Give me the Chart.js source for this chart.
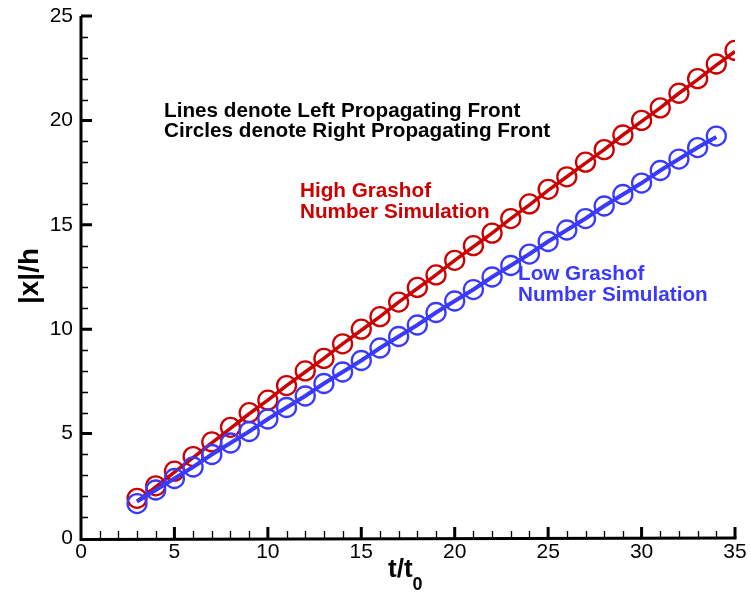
<!DOCTYPE html>
<html>
<head>
<meta charset="utf-8">
<script src="https://cdn.jsdelivr.net/npm/chart.js@4.4.1/dist/chart.umd.min.js"></script>
<style>
  body { margin: 0; background: #fff; }
  #wrap { width: 751px; height: 598px; }
</style>
</head>
<body>
<div id="wrap"><canvas id="myChart" width="751" height="598"></canvas></div>
<script>
// front position |x|/h against time t/t0
const xTicks = [0, 5, 10, 15, 20, 25, 30, 35];
const yTicks = [0, 5, 10, 15, 20, 25];

const tHigh = [3, 4, 5, 6, 7, 8, 9, 10, 11, 12, 13, 14, 15, 16, 17, 18, 19, 20,
  21, 22, 23, 24, 25, 26, 27, 28, 29, 30, 31, 32, 33, 34, 35];
const tLow = [3, 4, 5, 6, 7, 8, 9, 10, 11, 12, 13, 14, 15, 16, 17, 18, 19, 20,
  21, 22, 23, 24, 25, 26, 27, 28, 29, 30, 31, 32, 33, 34];

// high Grashof number run
const highLeft = [1.75, 2.45, 3.15, 3.85, 4.55, 5.25, 5.95, 6.6, 7.3, 7.95, 8.6, 9.3,
  9.95, 10.6, 11.3, 11.95, 12.6, 13.3, 13.95, 14.6, 15.3, 15.95, 16.65, 17.3,
  17.95, 18.6, 19.3, 19.95, 20.6, 21.3, 21.95, 22.65, 23.3];
const highRight = [1.9, 2.5, 3.2, 3.9, 4.6, 5.3, 6.0, 6.6, 7.3, 8.0, 8.6, 9.3,
  10.0, 10.6, 11.3, 12.0, 12.6, 13.3, 14.0, 14.6, 15.3, 16.0, 16.7, 17.3,
  18.0, 18.6, 19.3, 20.0, 20.6, 21.3, 22.0, 22.7, 23.35];

// low Grashof number run
const lowLeft = [1.75, 2.3, 2.85, 3.4, 4.0, 4.55, 5.1, 5.7, 6.25, 6.8, 7.4, 7.95,
  8.5, 9.1, 9.65, 10.2, 10.8, 11.35, 11.9, 12.5, 13.05, 13.6, 14.2, 14.75,
  15.3, 15.9, 16.45, 17.0, 17.6, 18.15, 18.7, 19.2];
const lowRight = [1.65, 2.3, 2.85, 3.4, 4.0, 4.55, 5.1, 5.7, 6.25, 6.8, 7.4, 7.95,
  8.5, 9.1, 9.65, 10.2, 10.8, 11.35, 11.9, 12.5, 13.05, 13.6, 14.2, 14.75,
  15.3, 15.9, 16.45, 17.0, 17.6, 18.15, 18.7, 19.25];

const red = "#cc0000";
const blue = "#3a3aff";
const FONT = "'Liberation Sans', Arial, sans-serif";

const pts = (xs, ys) => xs.map((x, i) => ({ x: x, y: ys[i] }));

// axes with inward major/minor ticks, axis titles and the notes on the plot
const decorations = {
  id: "decorations",
  afterDraw(chart) {
    const ctx = chart.ctx;
    const xs = chart.scales.x;
    const ys = chart.scales.y;
    const area = chart.chartArea;
    ctx.save();
    ctx.strokeStyle = "#000";
    ctx.lineCap = "butt";

    // axis lines
    ctx.lineWidth = 3;
    ctx.beginPath();
    ctx.moveTo(area.left, area.top);
    ctx.lineTo(area.left, area.bottom + 1.5);
    ctx.lineTo(area.right + 1.5, area.bottom);
    ctx.stroke();

    // minor ticks
    ctx.lineWidth = 1.3;
    ctx.beginPath();
    for (let v = xs.min; v <= xs.max; v++) {
      if (v % 5 === 0) continue;
      const px = Math.round(xs.getPixelForValue(v)) + 0.5;
      ctx.moveTo(px, area.bottom);
      ctx.lineTo(px, area.bottom - 7);
    }
    for (let v = ys.min; v <= ys.max; v++) {
      if (v % 5 === 0) continue;
      const py = Math.round(ys.getPixelForValue(v)) + 0.5;
      ctx.moveTo(area.left, py);
      ctx.lineTo(area.left + 7, py);
    }
    ctx.stroke();

    // major ticks
    ctx.lineWidth = 3;
    ctx.beginPath();
    xTicks.forEach((v) => {
      if (v === 0) return;
      const px = xs.getPixelForValue(v);
      ctx.moveTo(px, area.bottom);
      ctx.lineTo(px, area.bottom - 11);
    });
    yTicks.forEach((v) => {
      if (v === 0) return;
      const py = ys.getPixelForValue(v);
      ctx.moveTo(area.left, py);
      ctx.lineTo(area.left + 11, py);
    });
    ctx.stroke();

    // axis titles
    ctx.fillStyle = "#000";
    ctx.textBaseline = "alphabetic";
    ctx.font = "bold 26px " + FONT;
    ctx.textAlign = "left";
    ctx.fillText("t/t", 388, 577);
    const w = ctx.measureText("t/t").width;
    ctx.font = "bold 18px " + FONT;
    ctx.fillText("0", 388 + w, 590);

    ctx.save();
    ctx.translate(38, 276);
    ctx.rotate(-Math.PI / 2);
    ctx.textAlign = "center";
    ctx.font = "bold 28px " + FONT;
    ctx.fillText("|x|/h", 0, 0);
    ctx.restore();

    // notes
    ctx.textAlign = "left";
    ctx.font = "bold 20.7px " + FONT;
    ctx.fillStyle = "#000";
    ctx.fillText("Lines denote Left Propagating Front", 164, 117);
    ctx.fillText("Circles denote Right Propagating Front", 164, 137);
    ctx.fillStyle = red;
    ctx.fillText("High Grashof", 300, 197);
    ctx.fillText("Number Simulation", 300, 218);
    ctx.fillStyle = blue;
    ctx.fillText("Low Grashof", 518, 280);
    ctx.fillText("Number Simulation", 518, 301);
    ctx.restore();
  },
};

const ctx = document.getElementById("myChart");
const myChart = new Chart(ctx, {
  type: "scatter",
  data: {
    datasets: [
      {
        label: "High Grashof, left front",
        data: pts(tHigh, highLeft),
        showLine: true,
        borderColor: red,
        borderWidth: 3.5,
        pointRadius: 0,
        order: 2,
      },
      {
        label: "High Grashof, right front",
        data: pts(tHigh, highRight),
        showLine: false,
        pointRadius: 9.5,
        pointBorderWidth: 2.3,
        pointBorderColor: red,
        pointBackgroundColor: "rgba(0,0,0,0)",
        order: 3,
      },
      {
        label: "Low Grashof, left front",
        data: pts(tLow, lowLeft),
        showLine: true,
        borderColor: blue,
        borderWidth: 4,
        pointRadius: 0,
        order: 0,
      },
      {
        label: "Low Grashof, right front",
        data: pts(tLow, lowRight),
        showLine: false,
        pointRadius: 9.5,
        pointBorderWidth: 2.3,
        pointBorderColor: blue,
        pointBackgroundColor: "rgba(0,0,0,0)",
        order: 1,
      },
    ],
  },
  options: {
    responsive: false,
    devicePixelRatio: 1,
    animation: false,
    layout: { padding: { top: 16, right: 16, left: 0, bottom: 0 } },
    plugins: {
      legend: { display: false },
      tooltip: { enabled: false },
    },
    scales: {
      x: {
        type: "linear",
        min: 0,
        max: 35,
        afterBuildTicks: (scale) => {
          scale.ticks = xTicks.map((v) => ({ value: v }));
        },
        afterFit: (scale) => {
          scale.height = 60;
          scale.paddingLeft = 0;
          scale.paddingRight = 0;
        },
        grid: { display: false, drawTicks: false },
        border: { display: false },
        ticks: {
          color: "#000",
          font: { family: FONT, size: 21 },
          padding: 2,
          maxRotation: 0,
        },
      },
      y: {
        type: "linear",
        min: 0,
        max: 25,
        afterBuildTicks: (scale) => {
          scale.ticks = yTicks.map((v) => ({ value: v }));
        },
        afterFit: (scale) => {
          scale.width = 81;
          scale.paddingTop = 0;
          scale.paddingBottom = 0;
        },
        grid: { display: false, drawTicks: false },
        border: { display: false },
        ticks: {
          color: "#000",
          font: { family: FONT, size: 21 },
          padding: 8,
        },
      },
    },
  },
  plugins: [decorations],
});
</script>
</body>
</html>
